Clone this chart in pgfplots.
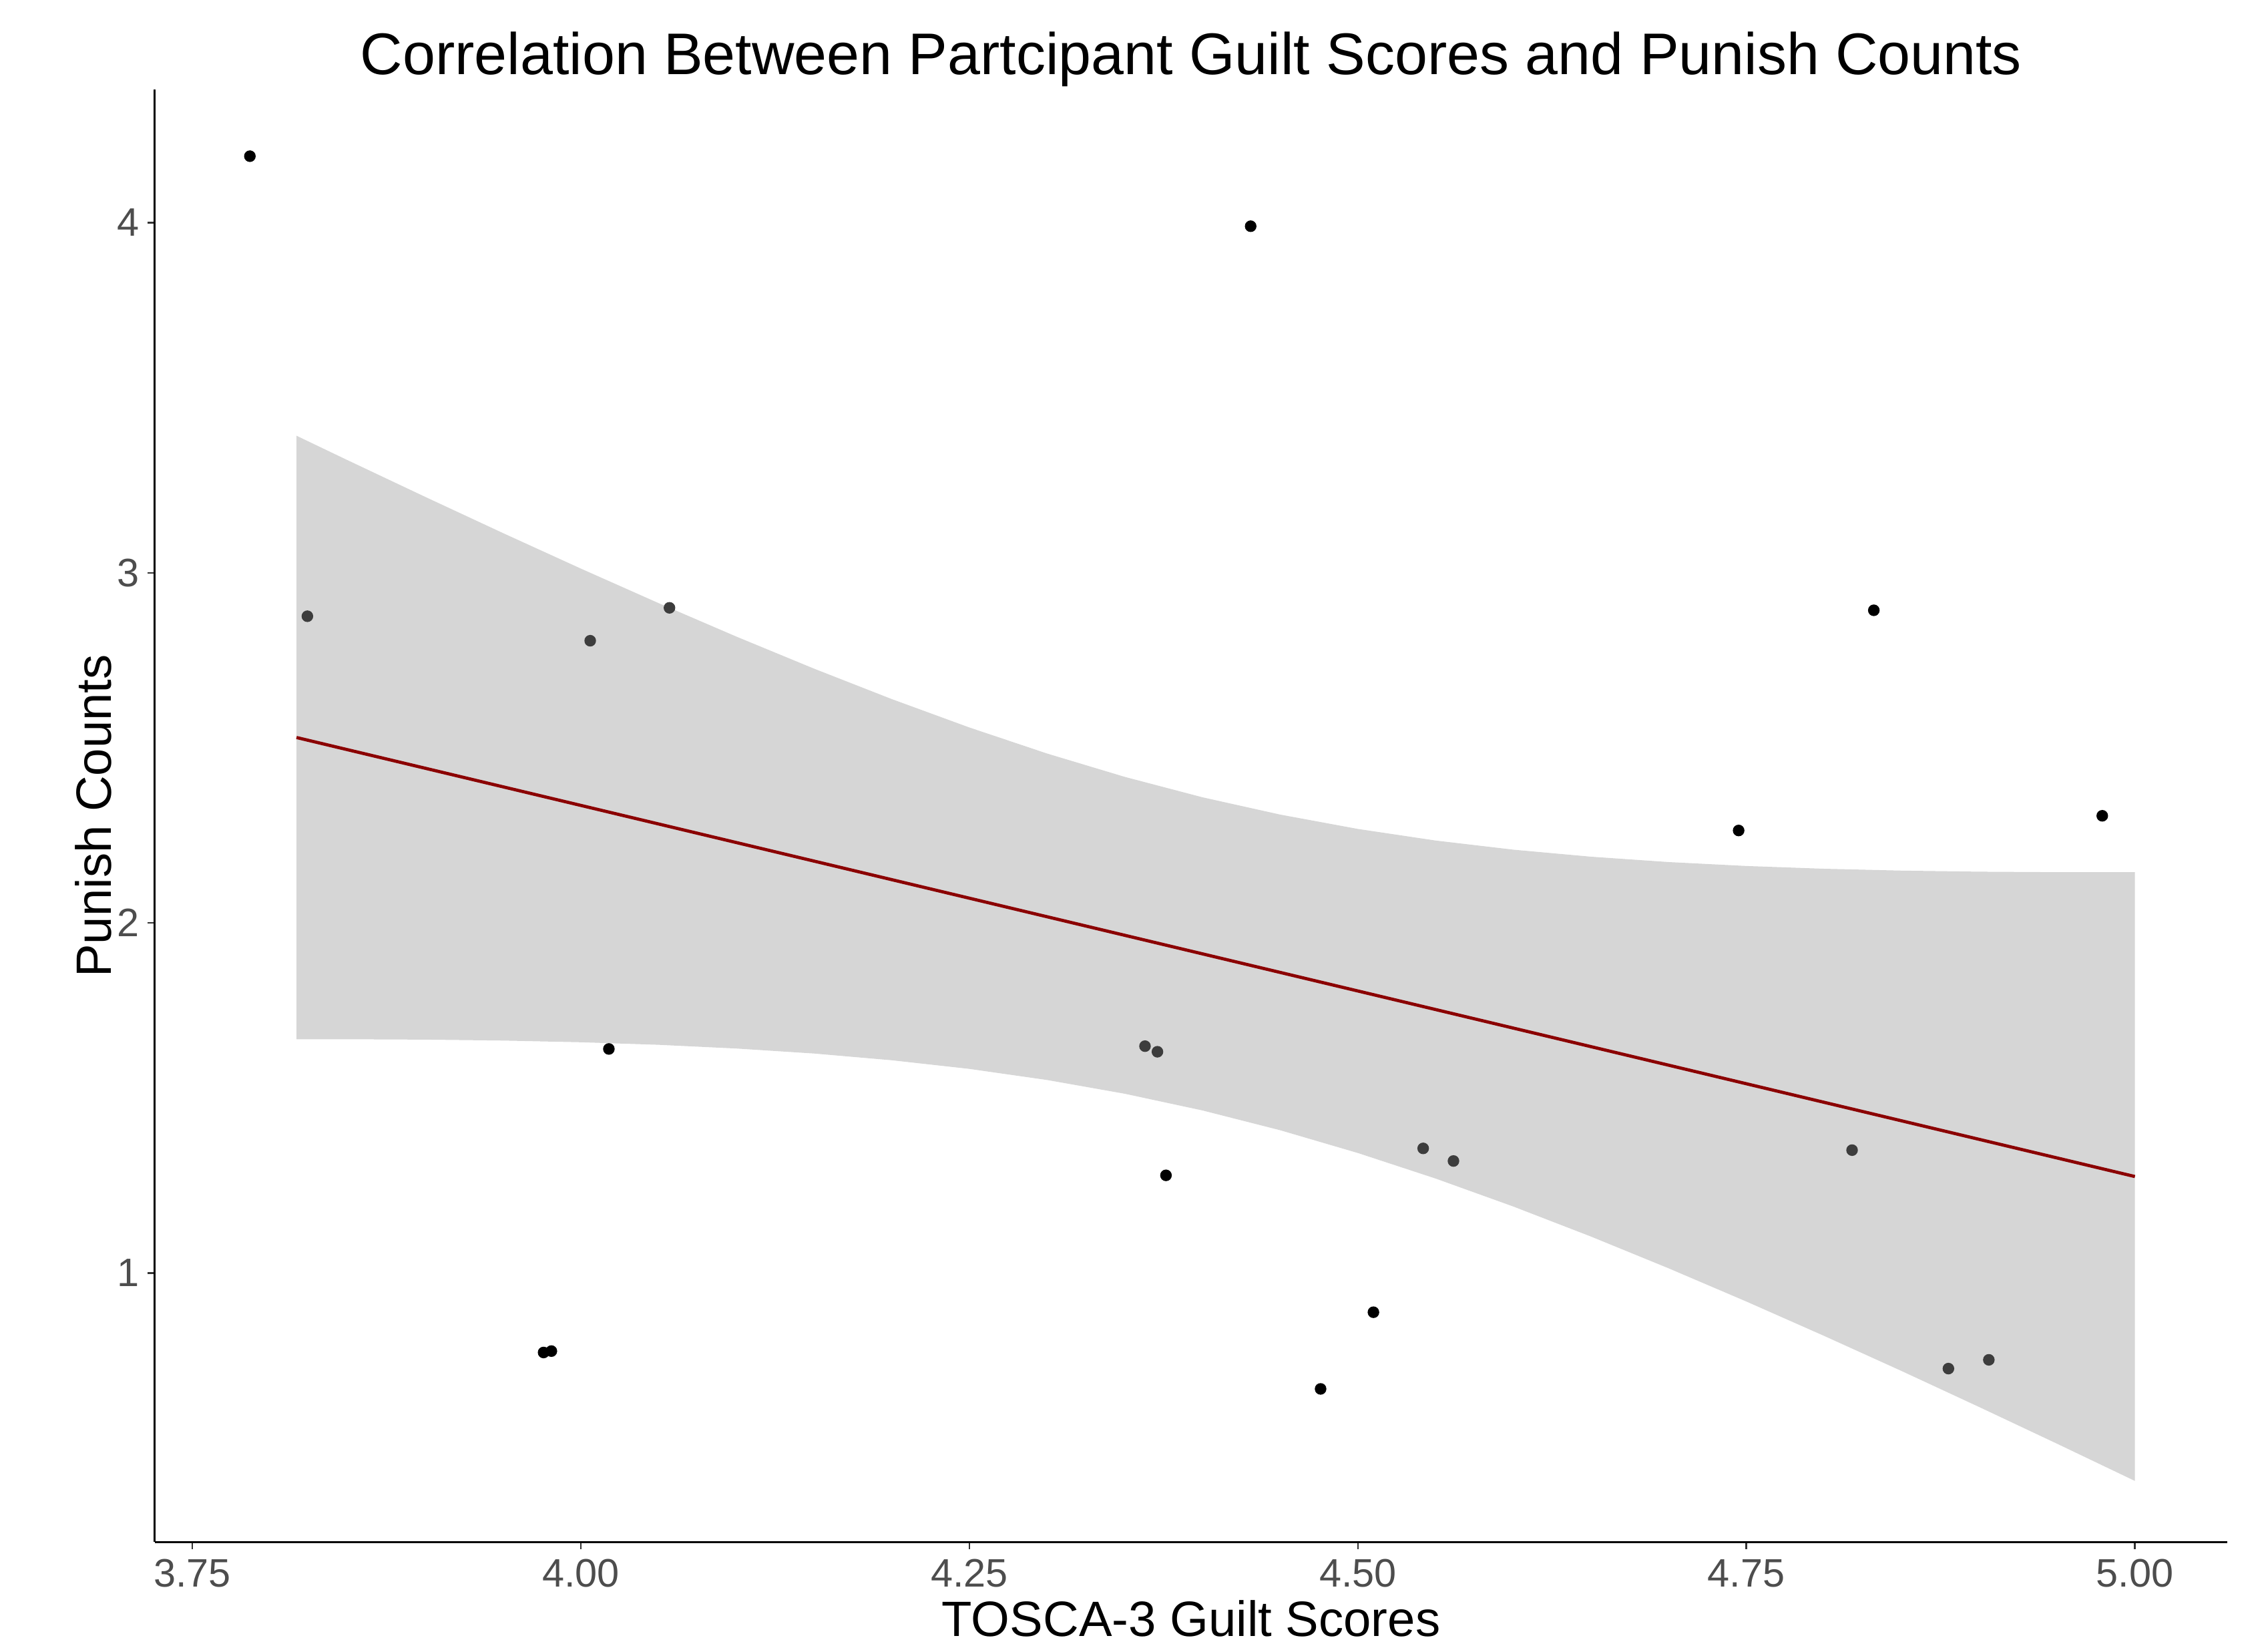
\documentclass[border=0pt]{standalone}
\usepackage{pgfplots}
\pgfplotsset{compat=1.18}
\usepackage{fontspec}
\setmainfont{Liberation Sans}
\definecolor{tickgrey}{HTML}{4D4D4D}
\definecolor{bandgrey}{HTML}{D6D6D6}
\definecolor{ptgrey}{HTML}{3D3D3D}
\definecolor{fitred}{HTML}{8B0000}
\begin{document}
\begin{tikzpicture}
\begin{axis}[
  scale only axis,
  width=358.25pt, height=251pt,
  xmin=3.7258, xmax=5.0596,
  ymin=0.2314, ymax=4.380,
  axis x line*=bottom, axis y line*=left,
  axis line style={-, black, line width=0.35pt},
  xtick={3.75,4,4.25,4.5,4.75,5},
  xticklabels={3.75,4.00,4.25,4.50,4.75,5.00},
  ytick={1,2,3,4},
  yticklabels={1,2,3,4},
  tick align=outside,
  major tick length=1.2pt,
  tick style={black!80, line width=0.3pt},
  /pgf/number format/assume math mode=true,
  xticklabel style={font=\fontsize{6.86}{8}\selectfont, text=tickgrey, anchor=base, inner sep=0pt, yshift=-6.55pt},
  yticklabel style={font=\fontsize{6.86}{8}\selectfont, text=tickgrey, anchor=east, inner sep=0pt, xshift=-1.3pt},
  every axis title/.style={at={(axis description cs:0.5,1.01036)}, anchor=base, font=\fontsize{10.15}{12}\selectfont, inner sep=0pt},
  every axis x label/.style={at={(axis description cs:0.5,-0.06474)}, anchor=base, font=\fontsize{8.58}{10}\selectfont, inner sep=0pt},
  every axis y label/.style={at={(axis description cs:-0.02107,0.5)}, rotate=90, anchor=base, font=\fontsize{8.58}{10}\selectfont, inner sep=0pt},
  title={Correlation Between Partcipant Guilt Scores and Punish Counts},
  xlabel={TOSCA-3 Guilt Scores},
  ylabel={Punish Counts},
  clip=false,
]
% confidence band
\addplot[draw=none, fill=bandgrey] coordinates {
(3.817,3.3915) (3.85,3.3214) (3.9,3.2165) (3.95,3.1132) (4.0,3.0120) (4.05,2.9134) (4.1,2.8179) (4.15,2.7263) (4.2,2.6394) (4.25,2.5582) (4.3,2.4838) (4.35,2.4171) (4.4,2.3588) (4.45,2.3094) (4.5,2.2684) (4.55,2.2353) (4.6,2.2092) (4.65,2.1891) (4.7,2.1738) (4.75,2.1626) (4.8,2.1547) (4.85,2.1494) (4.9,2.1463) (4.95,2.1449) (5.0,2.1450)
(5.0,0.4062) (4.95,0.5123) (4.9,0.6169) (4.85,0.7199) (4.8,0.8205) (4.75,0.9186) (4.7,1.0134) (4.65,1.1042) (4.6,1.1900) (4.55,1.2699) (4.5,1.3428) (4.45,1.4079) (4.4,1.4644) (4.35,1.5121) (4.3,1.5514) (4.25,1.5831) (4.2,1.6078) (4.15,1.6270) (4.1,1.6413) (4.05,1.6519) (4.0,1.6592) (3.95,1.6640) (3.9,1.6667) (3.85,1.6678) (3.817,1.6677) (3.817,3.3915)
};
% points outside the band
\addplot[only marks, mark=*, mark size=0.8pt, mark options={fill=black, draw=black}] coordinates {
(3.787,4.19) (4.018,1.64) (3.976,0.773) (3.981,0.777) (4.431,3.99)
(4.3765,1.279) (4.476,0.669) (4.510,0.888) (4.745,2.264) (4.832,2.893)
(4.979,2.306)
};
% points inside the band
\addplot[only marks, mark=*, mark size=0.8pt, mark options={fill=ptgrey, draw=ptgrey}] coordinates {
(3.824,2.876) (4.006,2.806) (4.057,2.90) (4.363,1.648) (4.371,1.632)
(4.542,1.356) (4.5615,1.320) (4.818,1.351) (4.880,0.727) (4.906,0.752)
};
% fitted line
\addplot[fitred, line width=0.55pt] coordinates {(3.817,2.5296) (5.0,1.2756)};
\coordinate (BL) at (rel axis cs:-0.07467,-0.06873);
\coordinate (TR) at (rel axis cs:1.01954,1.06175);
\end{axis}
\pgfresetboundingbox
\path[use as bounding box] (BL) rectangle (TR);
\end{tikzpicture}
\end{document}
